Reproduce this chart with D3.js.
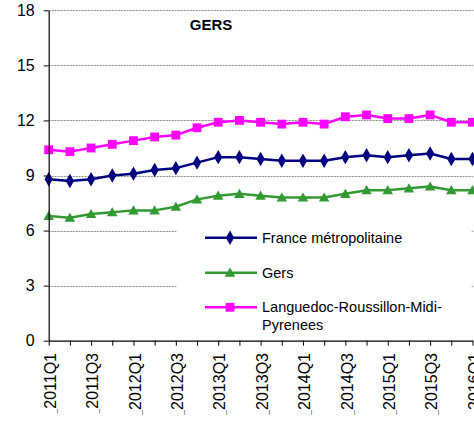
<!DOCTYPE html>
<html><head><meta charset="utf-8">
<script src="https://cdn.jsdelivr.net/npm/d3@7"></script>
<style>body{margin:0;background:#fff;} svg{display:block;}</style>
</head><body><svg id="c" width="474" height="425"></svg>
<script>
const categories = ["2011Q1","2011Q2","2011Q3","2011Q4","2012Q1","2012Q2","2012Q3","2012Q4","2013Q1","2013Q2","2013Q3","2013Q4","2014Q1","2014Q2","2014Q3","2014Q4","2015Q1","2015Q2","2015Q3","2015Q4","2016Q1"];
const franceValues = [8.8,8.7,8.8,9.0,9.1,9.3,9.4,9.7,10.0,10.0,9.9,9.8,9.8,9.8,10.0,10.1,10.0,10.1,10.2,9.9,9.9];
const gersValues = [6.8,6.7,6.9,7.0,7.1,7.1,7.3,7.7,7.9,8.0,7.9,7.8,7.8,7.8,8.0,8.2,8.2,8.3,8.4,8.2,8.2];
const lrmpValues = [10.4,10.3,10.5,10.7,10.9,11.1,11.2,11.6,11.9,12.0,11.9,11.8,11.9,11.8,12.2,12.3,12.1,12.1,12.3,11.9,11.9];
const yTicks = [0,3,6,9,12,15,18];
const seriesNames = ["France métropolitaine","Gers","Languedoc-Roussillon-Midi-Pyrenees"];
const title = "GERS";

const series = [
  {name: seriesNames[0], values: franceValues, color: "#000080", marker: "diamond"},
  {name: seriesNames[1], values: gersValues, color: "#339933", marker: "triangle"},
  {name: seriesNames[2], values: lrmpValues, color: "#FF00FF", marker: "square"}
];

const svg = d3.select("#c");
const x0 = 48.7, x1 = 472.5, yTop = 10.3, yBot = 340.7;
const x = d3.scalePoint().domain(categories).range([x0, x1]);
const y = d3.scaleLinear().domain([0, 18]).range([yBot, yTop]);

// gridlines
svg.append("g").selectAll("line").data(yTicks.filter(d => d > 0)).join("line")
  .attr("x1", x0).attr("x2", x1 + 0.5)
  .attr("y1", d => Math.round(y(d)) + 0.5).attr("y2", d => Math.round(y(d)) + 0.5)
  .attr("stroke", "#8c8c8c").attr("stroke-width", 1).attr("stroke-dasharray", "2,1");

// legend box (behind series)
const leg = svg.append("g");
leg.append("rect").attr("x", 176.5).attr("y", 217).attr("width", 294.5).attr("height", 123).attr("fill", "#fff");

const symType = {diamond: d3.symbolDiamond, triangle: d3.symbolTriangle, square: d3.symbolSquare};
const symSize = {diamond: 60, triangle: 48, square: 78};

const line = d3.line().x((d, i) => x(categories[i])).y(d => y(d));
series.forEach(s => {
  const g = svg.append("g");
  g.append("path").datum(s.values).attr("d", line).attr("fill", "none")
    .attr("stroke", s.color).attr("stroke-width", 2.5).attr("stroke-linejoin", "round");
  g.selectAll("path.m").data(s.values).join("path").attr("class", "m")
    .attr("transform", (d, i) => `translate(${x(categories[i])},${y(d) + (s.marker === "triangle" ? 1 : 0)})`)
    .attr("d", d3.symbol().type(symType[s.marker]).size(symSize[s.marker]))
    .attr("fill", s.color);
});

// legend entries
const legY = [237.7, 272.7, 307.3];
series.forEach((s, i) => {
  const g = leg.append("g");
  g.append("line").attr("x1", 205).attr("x2", 257).attr("y1", legY[i]).attr("y2", legY[i])
    .attr("stroke", s.color).attr("stroke-width", 2.5);
  g.append("path").attr("transform", `translate(230,${legY[i] + (s.marker === "triangle" ? 1 : 0)})`)
    .attr("d", d3.symbol().type(symType[s.marker]).size(symSize[s.marker])).attr("fill", s.color);
});
const legText = leg.append("g").attr("font-family", "Liberation Sans, Arial, sans-serif")
  .attr("font-size", "14.5px").attr("fill", "#000");
legText.append("text").attr("x", 262).attr("y", legY[0] + 5).text(seriesNames[0]);
legText.append("text").attr("x", 262).attr("y", legY[1] + 5).text(seriesNames[1]);
const t3 = legText.append("text").attr("x", 262).attr("y", legY[2] + 5);
t3.append("tspan").attr("x", 262).text("Languedoc-Roussillon-Midi-");
t3.append("tspan").attr("x", 262).attr("dy", 17.5).text("Pyrenees");

// y axis
const yAxis = svg.append("g").attr("transform", `translate(${x0},0)`)
  .call(d3.axisLeft(y).tickValues(yTicks).tickSize(5).tickSizeOuter(0).tickPadding(9).tickFormat(d3.format("d")));
yAxis.select(".domain").attr("stroke", "#000").attr("stroke-width", 1.2);
yAxis.selectAll(".tick line").attr("stroke", "#000");
yAxis.selectAll("text").attr("font-family", "Liberation Sans, Arial, sans-serif").attr("font-size", "16px").attr("fill", "#000");

// x axis
const xAxis = svg.append("g").attr("transform", `translate(0,${yBot})`)
  .call(d3.axisBottom(x).tickSize(5).tickSizeOuter(0).tickFormat(""));
xAxis.select(".domain").attr("stroke", "#000").attr("stroke-width", 1.2);
xAxis.selectAll(".tick line").attr("stroke", "#000");

const labG = svg.append("g").attr("font-family", "Liberation Sans, Arial, sans-serif").attr("font-size", "16px").attr("fill", "#000");
categories.forEach((c, i) => {
  if (i % 2 !== 0) return;
  const t = labG.append("text").attr("transform", `translate(${x(c) + 1.5},353) rotate(-90)`)
    .attr("text-anchor", "end").attr("dy", "0.36em");
  t.append("tspan").attr("font-size", "8px").text("_");
  t.append("tspan").text(c);
});

// title
svg.append("text").attr("x", 211).attr("y", 29.5).attr("text-anchor", "middle")
  .attr("font-family", "Liberation Sans, Arial, sans-serif").attr("font-weight", "bold")
  .attr("font-size", "15px").attr("fill", "#000").text(title);
</script></body></html>
